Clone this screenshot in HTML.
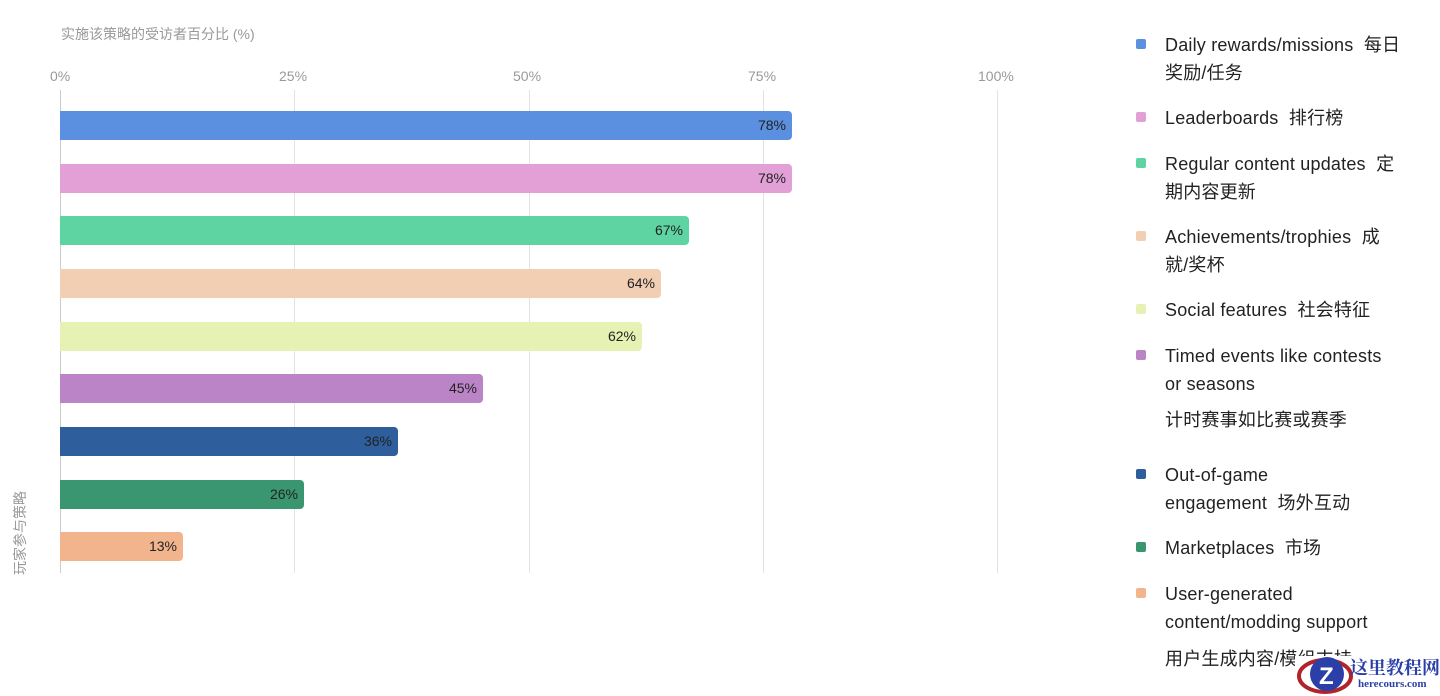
<!DOCTYPE html>
<html><head><meta charset="utf-8"><style>
body{margin:0;width:1440px;height:696px;background:#fff;position:relative;overflow:hidden;font-family:"Liberation Sans","Noto Sans CJK SC",sans-serif}
.a{position:absolute}
.t{color:#999;font-size:14px}
.g{position:absolute;top:90px;width:1px;height:483px;background:#e2e2e2}
.bar{position:absolute;left:60px;height:29px;border-radius:0 4px 4px 0}
.bar span{position:absolute;right:6px;top:6px;font-size:14px;color:#222}
.sq{position:absolute;left:1136px;width:10px;height:10px;border-radius:2px}
.lt{position:absolute;left:1165px;font-size:18px;letter-spacing:0.2px;color:#222;line-height:28px;white-space:nowrap}
</style></head><body>
<div class="a t" style="left:61px;top:24px">实施该策略的受访者百分比 (%)</div>
<div class="a t" style="left:50px;top:68px">0%</div>
<div class="a t" style="left:279px;top:68px">25%</div>
<div class="a t" style="left:513px;top:68px">50%</div>
<div class="a t" style="left:748px;top:68px">75%</div>
<div class="a t" style="left:978px;top:68px">100%</div>
<div class="g" style="left:60px;background:#ccc"></div>
<div class="g" style="left:294px"></div>
<div class="g" style="left:529px"></div>
<div class="g" style="left:763px"></div>
<div class="g" style="left:997px"></div>
<div class="a t" style="left:-25px;top:520px;transform:rotate(-90deg);transform-origin:center;width:90px">玩家参与策略</div>
<div class="bar" style="top:111px;width:732px;background:#5b8fe0"><span>78%</span></div>
<div class="bar" style="top:164px;width:732px;background:#e2a0d6"><span>78%</span></div>
<div class="bar" style="top:216px;width:629px;background:#5fd4a3"><span>67%</span></div>
<div class="bar" style="top:269px;width:601px;background:#f2ceb2"><span>64%</span></div>
<div class="bar" style="top:322px;width:582px;background:#e6f1b4"><span>62%</span></div>
<div class="bar" style="top:374px;width:423px;background:#bb84c6"><span>45%</span></div>
<div class="bar" style="top:427px;width:338px;background:#2e5e9c"><span>36%</span></div>
<div class="bar" style="top:480px;width:244px;background:#3a9671"><span>26%</span></div>
<div class="bar" style="top:532px;width:123px;background:#f2b48d"><span>13%</span></div>

<div class="sq" style="top:39px;background:#5b8fe0"></div>
<div class="lt" style="top:31px">Daily rewards/missions&nbsp; 每日<br>奖励/任务</div>
<div class="sq" style="top:112px;background:#e2a0d6"></div>
<div class="lt" style="top:104px">Leaderboards&nbsp; 排行榜</div>
<div class="sq" style="top:158px;background:#5fd4a3"></div>
<div class="lt" style="top:150px">Regular content updates&nbsp; 定<br>期内容更新</div>
<div class="sq" style="top:231px;background:#f2ceb2"></div>
<div class="lt" style="top:223px">Achievements/trophies&nbsp; 成<br>就/奖杯</div>
<div class="sq" style="top:304px;background:#e6f1b4"></div>
<div class="lt" style="top:296px">Social features&nbsp; 社会特征</div>
<div class="sq" style="top:350px;background:#bb84c6"></div>
<div class="lt" style="top:342px">Timed events like contests<br>or seasons</div>
<div class="lt" style="top:406px">计时赛事如比赛或赛季</div>
<div class="sq" style="top:469px;background:#2e5e9c"></div>
<div class="lt" style="top:461px">Out-of-game<br>engagement&nbsp; 场外互动</div>
<div class="sq" style="top:542px;background:#3a9671"></div>
<div class="lt" style="top:534px">Marketplaces&nbsp; 市场</div>
<div class="sq" style="top:588px;background:#f2b48d"></div>
<div class="lt" style="top:580px">User-generated<br>content/modding support</div>
<div class="lt" style="top:645px">用户生成内容/模组支持</div>

<div class="a" style="left:1295px;top:656px;width:150px;height:40px;background:#fff"></div>
<svg class="a" style="left:1295px;top:652px" width="60" height="44"><ellipse cx="30" cy="24" rx="26" ry="16" fill="none" stroke="#b0242a" stroke-width="4"/><circle cx="32" cy="22" r="17" fill="#2a3fa8"/><text x="24" y="32" font-size="24" font-weight="bold" fill="#fff" font-family="Liberation Sans">Z</text></svg>
<div class="a" style="left:1350px;top:655px;font-size:18px;font-weight:bold;color:#2a3fa8;white-space:nowrap;font-family:'Noto Serif CJK SC',serif;line-height:24px">这里教程网</div>
<div class="a" style="left:1358px;top:678px;font-size:11px;font-weight:bold;color:#2a3fa8;white-space:nowrap;font-family:'Liberation Serif',serif">herecours.com</div>
</body></html>
